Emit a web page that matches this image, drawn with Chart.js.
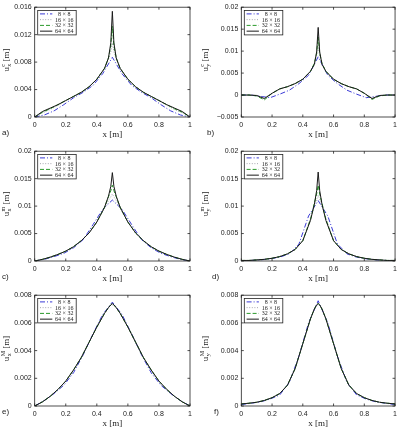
<!DOCTYPE html>
<html>
<head>
<meta charset="utf-8">
<script src="https://cdn.jsdelivr.net/npm/chart.js"></script>
<style>
  body { margin: 0; background: #fff; width: 401px; height: 428px; position: relative; overflow: hidden; }
  canvas { position: absolute; }
  .tag { position: absolute; font: 8px 'Liberation Sans', Arial, sans-serif; line-height: 8px; color: #222; }
</style>
</head>
<body>
<canvas id="pa" width="200" height="142" style="left:0;top:0"></canvas>
<canvas id="pb" width="201" height="142" style="left:200px;top:0"></canvas>
<canvas id="pc" width="200" height="142" style="left:0;top:144px"></canvas>
<canvas id="pd" width="201" height="142" style="left:200px;top:144px"></canvas>
<canvas id="pe" width="200" height="142" style="left:0;top:288px"></canvas>
<canvas id="pf" width="201" height="142" style="left:200px;top:288px"></canvas>
<div class="tag" style="left:2px;top:129px">a)</div>
<div class="tag" style="left:207px;top:129px">b)</div>
<div class="tag" style="left:2px;top:273px">c)</div>
<div class="tag" style="left:212px;top:273px">d)</div>
<div class="tag" style="left:2px;top:408px">e)</div>
<div class="tag" style="left:214px;top:408px">f)</div>
<script>
const meshLabels = ['8 × 8', '16 × 16', '32 × 32', '64 × 64'];
const xTicks = [0, 0.2, 0.4, 0.6, 0.8, 1];

// node positions (fine meshes) and coarse mesh nodes
const xFine = [0, 0.05, 0.1, 0.15, 0.2, 0.25, 0.3, 0.35, 0.4, 0.45, 0.475, 0.49, 0.5,
               0.51, 0.525, 0.55, 0.6, 0.65, 0.7, 0.75, 0.8, 0.85, 0.9, 0.95, 1];
const xCoarse = [0, 0.0625, 0.125, 0.1875, 0.25, 0.3125, 0.375, 0.4375, 0.5,
                 0.5625, 0.625, 0.6875, 0.75, 0.8125, 0.875, 0.9375, 1];

// a) u_x^c
const a8  = [0, 0.0003, 0.0009, 0.0018, 0.0028, 0.0036, 0.0046, 0.0063, 0.0087, 0.0063, 0.0046, 0.0036, 0.0028, 0.0018, 0.0009, 0.0003, 0];
const a16 = [0, 0.0006, 0.0011, 0.0017, 0.0024, 0.003, 0.0036, 0.0044, 0.0055, 0.0071, 0.0084, 0.0095, 0.0108, 0.0095, 0.0084, 0.0071, 0.0055, 0.0044, 0.0036, 0.003, 0.0024, 0.0017, 0.0011, 0.0006, 0];
const a32 = [0, 0.0007, 0.0012, 0.0018, 0.0024, 0.003, 0.0036, 0.0044, 0.0055, 0.0071, 0.0086, 0.0104, 0.0132, 0.0104, 0.0086, 0.0071, 0.0055, 0.0044, 0.0036, 0.003, 0.0024, 0.0018, 0.0012, 0.0007, 0];
const a64 = [0, 0.0008, 0.0013, 0.0018, 0.0024, 0.003, 0.0036, 0.0044, 0.0055, 0.0071, 0.0086, 0.0108, 0.0154, 0.0108, 0.0086, 0.0071, 0.0055, 0.0044, 0.0036, 0.003, 0.0024, 0.0018, 0.0013, 0.0008, 0];

// b) u_y^c
const b8  = [0, 0, -0.0003, -0.0006, 0.0002, 0.0011, 0.0026, 0.0045, 0.0087, 0.0045, 0.0026, 0.0011, 0.0002, -0.0006, -0.0003, 0, 0];
const b16 = [0, 0, -0.0001, -0.0006, 0.0004, 0.0014, 0.0019, 0.0026, 0.0036, 0.0054, 0.0068, 0.009, 0.011, 0.009, 0.0068, 0.0054, 0.0036, 0.0026, 0.0019, 0.0014, 0.0004, -0.0006, -0.0001, 0, 0];
const b32 = [0, 0, -0.0002, -0.0011, 0.0004, 0.0014, 0.0019, 0.0026, 0.0036, 0.0054, 0.0072, 0.0095, 0.0132, 0.0095, 0.0072, 0.0054, 0.0036, 0.0026, 0.0019, 0.0014, 0.0004, -0.001, -0.0002, 0, 0];
const b64 = [0, 0, -0.0001, -0.0008, 0.0004, 0.0014, 0.0019, 0.0026, 0.0036, 0.0054, 0.007, 0.0098, 0.0154, 0.0098, 0.007, 0.0054, 0.0036, 0.0026, 0.0019, 0.0014, 0.0004, -0.0008, -0.0001, 0, 0];

// c) u_x^m
const c8  = [0, 0.0003, 0.0008, 0.0014, 0.0024, 0.0039, 0.0066, 0.0094, 0.0111, 0.0094, 0.0066, 0.0039, 0.0024, 0.0014, 0.0008, 0.0003, 0];
const c16 = [0, 0.0003, 0.0007, 0.0012, 0.0018, 0.0026, 0.0037, 0.0051, 0.0071, 0.0096, 0.011, 0.0117, 0.0122, 0.0117, 0.011, 0.0096, 0.0071, 0.0051, 0.0037, 0.0026, 0.0018, 0.0012, 0.0007, 0.0003, 0];
const c32 = [0, 0.0003, 0.0007, 0.0012, 0.0018, 0.0026, 0.0037, 0.0051, 0.0071, 0.0098, 0.0117, 0.0128, 0.0138, 0.0128, 0.0117, 0.0098, 0.0071, 0.0051, 0.0037, 0.0026, 0.0018, 0.0012, 0.0007, 0.0003, 0];
const c64 = [0, 0.0003, 0.0007, 0.0012, 0.0018, 0.0026, 0.0037, 0.0051, 0.0071, 0.0098, 0.0118, 0.0136, 0.0161, 0.0136, 0.0118, 0.0098, 0.0071, 0.0051, 0.0037, 0.0026, 0.0018, 0.0012, 0.0007, 0.0003, 0];

// d) u_y^m
const d8  = [0, 0.0001, 0.0002, 0.0004, 0.0007, 0.0013, 0.0031, 0.0082, 0.011, 0.0082, 0.0031, 0.0013, 0.0007, 0.0004, 0.0002, 0.0001, 0];
const d16 = [0.0001, 0.0001, 0.0002, 0.0003, 0.0005, 0.0008, 0.0013, 0.0021, 0.0037, 0.0078, 0.01, 0.0112, 0.012, 0.0112, 0.01, 0.0078, 0.0037, 0.0021, 0.0013, 0.0008, 0.0005, 0.0003, 0.0002, 0.0001, 0.0001];
const d32 = [0.0001, 0.0001, 0.0002, 0.0003, 0.0005, 0.0008, 0.0013, 0.0021, 0.0037, 0.0076, 0.0105, 0.0122, 0.0138, 0.0122, 0.0105, 0.0076, 0.0037, 0.0021, 0.0013, 0.0008, 0.0005, 0.0003, 0.0002, 0.0001, 0.0001];
const d64 = [0.0001, 0.0001, 0.0002, 0.0003, 0.0005, 0.0008, 0.0013, 0.0021, 0.0037, 0.0074, 0.0103, 0.0128, 0.0162, 0.0128, 0.0103, 0.0074, 0.0037, 0.0021, 0.0013, 0.0008, 0.0005, 0.0003, 0.0002, 0.0001, 0.0001];

// e) u_x^M
const e8  = [0, 0.0004, 0.0009, 0.0015, 0.0024, 0.0037, 0.0052, 0.0066, 0.0075, 0.0066, 0.0052, 0.0037, 0.0024, 0.0015, 0.0009, 0.0004, 0];
const e16 = [0, 0.0003, 0.0007, 0.0012, 0.0018, 0.0026, 0.0035, 0.0046, 0.0057, 0.0067, 0.0071, 0.0073, 0.0073, 0.0073, 0.0071, 0.0067, 0.0057, 0.0046, 0.0035, 0.0026, 0.0018, 0.0012, 0.0007, 0.0003, 0];
const e32 = [0, 0.0003, 0.0007, 0.0012, 0.0018, 0.0026, 0.0035, 0.0046, 0.0057, 0.0067, 0.0071, 0.0073, 0.0074, 0.0073, 0.0071, 0.0067, 0.0057, 0.0046, 0.0035, 0.0026, 0.0018, 0.0012, 0.0007, 0.0003, 0];
const e64 = [0, 0.0003, 0.0007, 0.0012, 0.0018, 0.0026, 0.0035, 0.0046, 0.0057, 0.0067, 0.0071, 0.0073, 0.0074, 0.0073, 0.0071, 0.0067, 0.0057, 0.0046, 0.0035, 0.0026, 0.0018, 0.0012, 0.0007, 0.0003, 0];

// f) u_y^M
const f8  = [0.0001, 0.0002, 0.0003, 0.0005, 0.0008, 0.0017, 0.0036, 0.006, 0.0076, 0.006, 0.0036, 0.0017, 0.0008, 0.0005, 0.0003, 0.0002, 0.0001];
const f16 = [0.00015, 0.0002, 0.00027, 0.0004, 0.0006, 0.0009, 0.0015, 0.0027, 0.0045, 0.0063, 0.007, 0.0073, 0.0073, 0.0073, 0.007, 0.0063, 0.0045, 0.0027, 0.0015, 0.0009, 0.0006, 0.0004, 0.00027, 0.0002, 0.00015];
const f32 = [0.00015, 0.0002, 0.00027, 0.0004, 0.0006, 0.0009, 0.0015, 0.0027, 0.0045, 0.0063, 0.007, 0.0073, 0.0074, 0.0073, 0.007, 0.0063, 0.0045, 0.0027, 0.0015, 0.0009, 0.0006, 0.0004, 0.00027, 0.0002, 0.00015];
const f64 = [0.00015, 0.0002, 0.00027, 0.0004, 0.0006, 0.0009, 0.0015, 0.0027, 0.0045, 0.0063, 0.007, 0.0073, 0.0074, 0.0073, 0.007, 0.0063, 0.0045, 0.0027, 0.0015, 0.0009, 0.0006, 0.0004, 0.00027, 0.0002, 0.00015];

const lineStyles = [
  { color: '#3a3ad6', dash: [5, 2, 1, 2] },
  { color: '#a8a8b0', dash: [1, 1.6] },
  { color: '#2b9a2b', dash: [4, 2] },
  { color: '#1a1a1a', dash: [] }
];

const pts = (xs, ys) => xs.map((x, i) => ({ x: x, y: ys[i] }));
const fmt = v => String(Math.round(v * 1e6) / 1e6).replace('-', '\u2212');

// box, inward ticks, legend and axis labels
const framePlugin = {
  id: 'frame',
  afterDraw(chart, args, o) {
    const { ctx, chartArea: a, scales: { x, y } } = chart;
    ctx.save();
    ctx.strokeStyle = '#222';
    ctx.lineWidth = 0.8;
    ctx.setLineDash([]);
    ctx.strokeRect(a.left, a.top, a.right - a.left, a.bottom - a.top);
    ctx.beginPath();
    x.ticks.forEach(t => {
      const px = x.getPixelForValue(t.value);
      ctx.moveTo(px, a.bottom); ctx.lineTo(px, a.bottom - 2.5);
      ctx.moveTo(px, a.top); ctx.lineTo(px, a.top + 2.5);
    });
    y.ticks.forEach(t => {
      const py = y.getPixelForValue(t.value);
      ctx.moveTo(a.left, py); ctx.lineTo(a.left + 2.5, py);
      ctx.moveTo(a.right, py); ctx.lineTo(a.right - 2.5, py);
    });
    ctx.stroke();

    // legend
    const lx = a.left + 3, ly = a.top + 3.3;
    ctx.fillStyle = '#fff';
    ctx.fillRect(lx, ly, 38.5, 24.4);
    ctx.strokeRect(lx, ly, 38.5, 24.4);
    ctx.font = "6px 'Liberation Serif', serif";
    ctx.textAlign = 'center';
    ctx.textBaseline = 'middle';
    chart.data.datasets.forEach((ds, i) => {
      const yy = a.top + 6.7 + i * 5.75;
      ctx.strokeStyle = ds.borderColor;
      ctx.lineWidth = 1;
      ctx.setLineDash(ds.borderDash);
      ctx.beginPath();
      ctx.moveTo(lx + 2.3, yy); ctx.lineTo(lx + 14.6, yy);
      ctx.stroke();
      ctx.setLineDash([]);
      ctx.fillStyle = '#222';
      ctx.fillText(ds.label, lx + 26.6, yy + 0.3);
    });

    // x label
    ctx.font = "9px 'Liberation Serif', serif";
    ctx.fillText('x [m]', (a.left + a.right) / 2, a.bottom + 17.5);

    // y label with sub/superscript
    ctx.translate(o.labelX, (a.top + a.bottom) / 2 - 2);
    ctx.rotate(-Math.PI / 2);
    ctx.textAlign = 'left';
    ctx.textBaseline = 'alphabetic';
    const big = "9px 'Liberation Serif', serif", small = "6px 'Liberation Serif', serif";
    ctx.font = big;
    const wu = ctx.measureText('u').width, wm = ctx.measureText(' [m]').width;
    ctx.font = small;
    const ws = Math.max(ctx.measureText(o.sub).width, ctx.measureText(o.sup).width);
    const x0 = -(wu + ws + wm) / 2, base = 3;
    ctx.font = big;
    ctx.fillText('u', x0, base);
    ctx.font = small;
    ctx.fillText(o.sub, x0 + wu + 0.3, base + 2);
    ctx.fillText(o.sup, x0 + wu + 0.3, base - 4.5);
    ctx.font = big;
    ctx.fillText(' [m]', x0 + wu + ws + 0.3, base);
    ctx.restore();
  }
};

function makePanel(id, right, xH, yMin, yMax, yStep, sub, sup, fine, coarse) {
  const series = [pts(xCoarse, coarse), pts(xFine, fine[0]), pts(xFine, fine[1]), pts(xFine, fine[2])];
  new Chart(document.getElementById(id), {
    type: 'line',
    data: {
      datasets: series.map((d, i) => ({
        label: meshLabels[i],
        data: d,
        borderColor: lineStyles[i].color,
        borderDash: lineStyles[i].dash,
        borderWidth: 1,
        pointRadius: 0,
        tension: 0,
        fill: false,
        order: 3 - i
      }))
    },
    options: {
      responsive: false,
      animation: false,
      devicePixelRatio: 1,
      layout: { padding: { top: 6, left: 0, bottom: 0, right: right ? 4.3 : 10 } },
      plugins: {
        legend: { display: false },
        tooltip: { enabled: false },
        frame: { labelX: right ? 5 : 6, sub: sub, sup: sup }
      },
      scales: {
        x: {
          type: 'linear', min: 0, max: 1,
          afterFit: s => { s.height = xH; },
          afterBuildTicks: s => { s.ticks = xTicks.map(v => ({ value: v })); },
          grid: { display: false, drawTicks: false },
          border: { display: false },
          ticks: { autoSkip: false, maxRotation: 0, padding: 4, color: '#222',
                   font: { family: "'Liberation Sans', Arial, sans-serif", size: 7 }, callback: fmt }
        },
        y: {
          type: 'linear', min: yMin, max: yMax,
          afterFit: s => { s.width = right ? 41.3 : 34.7; },
          grid: { display: false, drawTicks: false },
          border: { display: false },
          ticks: { stepSize: yStep, autoSkip: false, padding: 3, color: '#222',
                   font: { family: "'Liberation Sans', Arial, sans-serif", size: 7 }, callback: fmt }
        }
      }
    },
    plugins: [framePlugin]
  });
}

makePanel('pa', false, 25, 0, 0.016, 0.004, 'x', 'c', [a16, a32, a64], a8);
makePanel('pb', true, 25, -0.005, 0.02, 0.005, 'y', 'c', [b16, b32, b64], b8);
makePanel('pc', false, 25, 0, 0.02, 0.005, 'x', 'm', [c16, c32, c64], c8);
makePanel('pd', true, 25, 0, 0.02, 0.005, 'y', 'm', [d16, d32, d64], d8);
makePanel('pe', false, 24, 0, 0.008, 0.002, 'x', 'M', [e16, e32, e64], e8);
makePanel('pf', true, 24, 0, 0.008, 0.002, 'y', 'M', [f16, f32, f64], f8);
</script>
</body>
</html>
